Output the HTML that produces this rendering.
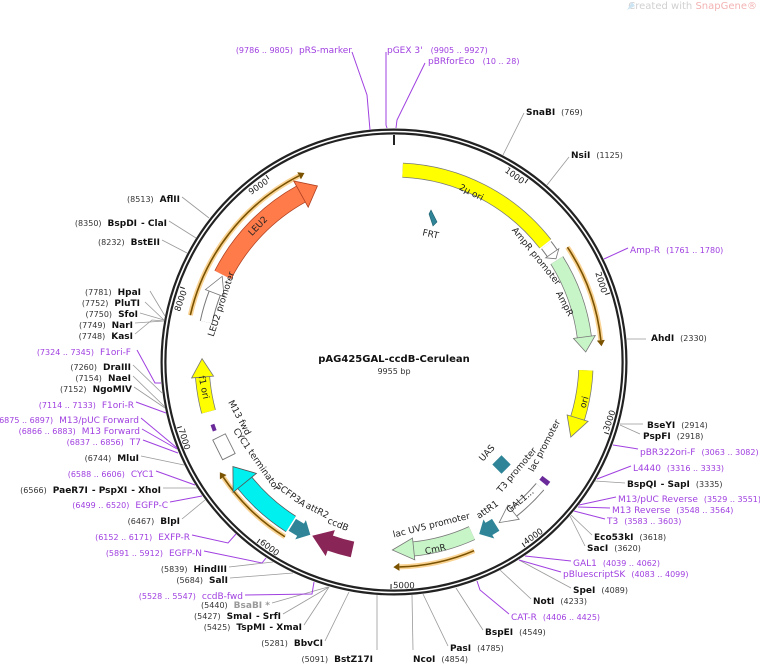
<!DOCTYPE html>
<html><head><meta charset="utf-8"><style>
html,body{margin:0;padding:0;background:#fff;}
svg{display:block;font-family:"DejaVu Sans","Liberation Sans",sans-serif;}
.n{font-size:8px;fill:#333;}
.b{font-size:9px;font-weight:bold;fill:#111;}
.p{font-size:9px;fill:#a040e0;}
.pn{font-size:8px;fill:#a040e0;}
.f{font-size:9px;fill:#222;}
.gl{stroke:#999;stroke-width:0.8;fill:none;}
.pl{stroke:#a040e0;stroke-width:1;fill:none;}
</style></head><body>
<svg width="760" height="666" viewBox="0 0 760 666" xmlns="http://www.w3.org/2000/svg">
<rect width="760" height="666" fill="#fff"/>
<text x="757" y="9" text-anchor="end" font-size="10" fill="#d0d0d0">Created with <tspan fill="#f3b3b3">SnapGene®</tspan></text>
<path d="M627 10 L632 2 L635 6 Z" fill="#cde4f3"/>

<!-- ring -->
<circle cx="394" cy="362" r="230.5" fill="none" stroke="#222" stroke-width="6"/>
<circle cx="394" cy="362" r="230.5" fill="none" stroke="#fff" stroke-width="1.6"/>
<line x1="394" y1="135" x2="394" y2="145" stroke="#222" stroke-width="2"/>

<!-- ticks -->
<g font-size="8.5" fill="#222">
<g transform="translate(528,179) rotate(36.2)"><line x1="0" y1="0" x2="0" y2="5" stroke="#222"/><text x="-2" y="8" text-anchor="end">1000</text></g>
<g transform="translate(610,293) rotate(72.3)"><line x1="0" y1="0" x2="0" y2="5" stroke="#222"/><text x="-2" y="8" text-anchor="end">2000</text></g>
<g transform="translate(609,434) rotate(-71.5)"><line x1="0" y1="0" x2="0" y2="-5" stroke="#222"/><text x="2" y="-1">3000</text></g>
<g transform="translate(525,547) rotate(-35.4)"><line x1="0" y1="0" x2="0" y2="-5" stroke="#222"/><text x="2" y="-1">4000</text></g>
<g transform="translate(391,589) rotate(0.8)"><line x1="0" y1="0" x2="0" y2="-5" stroke="#222"/><text x="2" y="-1">5000</text></g>
<g transform="translate(257,543) rotate(37)"><line x1="0" y1="0" x2="0" y2="-5" stroke="#222"/><text x="2" y="-1">6000</text></g>
<g transform="translate(177,428) rotate(73.2)"><line x1="0" y1="0" x2="0" y2="-5" stroke="#222"/><text x="2" y="-1">7000</text></g>
<g transform="translate(180,287) rotate(-70.7)"><line x1="0" y1="0" x2="0" y2="5" stroke="#222"/><text x="-2" y="8" text-anchor="end">8000</text></g>
<g transform="translate(266,175) rotate(-34.5)"><line x1="0" y1="0" x2="0" y2="5" stroke="#222"/><text x="-2" y="8" text-anchor="end">9000</text></g>
</g>

<!-- orange ORF arcs -->
<g fill="none" transform="rotate(-90 394 362)">
<circle cx="394" cy="362" r="208" pathLength="360" stroke="#f7c878" stroke-width="5" stroke-dasharray="27.5 360" stroke-dashoffset="-56.5" opacity="0.8"/>
<circle cx="394" cy="362" r="208" pathLength="360" stroke="#7a5200" stroke-width="1.6" stroke-dasharray="27.5 360" stroke-dashoffset="-56.5"/>
<circle cx="394" cy="362" r="209" pathLength="360" stroke="#f7c878" stroke-width="5" stroke-dasharray="50 360" stroke-dashoffset="-283" opacity="0.8"/>
<circle cx="394" cy="362" r="209" pathLength="360" stroke="#7a5200" stroke-width="1.6" stroke-dasharray="50 360" stroke-dashoffset="-283"/>
<circle cx="394" cy="362" r="206" pathLength="360" stroke="#f7c878" stroke-width="5" stroke-dasharray="24 360" stroke-dashoffset="-212" opacity="0.8"/>
<circle cx="394" cy="362" r="206" pathLength="360" stroke="#7a5200" stroke-width="1.6" stroke-dasharray="24 360" stroke-dashoffset="-212"/>
<circle cx="394" cy="362" r="205" pathLength="360" stroke="#f7c878" stroke-width="5" stroke-dasharray="21.5 360" stroke-dashoffset="-157" opacity="0.8"/>
<circle cx="394" cy="362" r="205" pathLength="360" stroke="#7a5200" stroke-width="1.6" stroke-dasharray="21.5 360" stroke-dashoffset="-157"/>
</g>
<g fill="#7a5200">
<polygon transform="rotate(84 394 362)" points="394,150 394,158 400,154"/>
<polygon transform="rotate(333 394 362)" points="394,149 394,157 400,153"/>
<polygon transform="rotate(236 394 362)" points="394,152 394,160 400,156"/>
<polygon transform="rotate(178.5 394 362)" points="394,153 394,161 400,157"/>
</g>

<!-- features: bodies -->
<g fill="none" transform="rotate(-90 394 362)">
<circle cx="394" cy="362" r="192" pathLength="360" stroke="#777" stroke-width="15" stroke-dasharray="49.4 360" stroke-dashoffset="-2.6"/>
<circle cx="394" cy="362" r="192" pathLength="360" stroke="#ffff00" stroke-width="13.5" stroke-dasharray="49.4 360" stroke-dashoffset="-2.6"/>
<circle cx="394" cy="362" r="192" pathLength="360" stroke="#777" stroke-width="13" stroke-dasharray="3 360" stroke-dashoffset="-52.5"/>
<circle cx="394" cy="362" r="192" pathLength="360" stroke="#fff" stroke-width="11" stroke-dasharray="3 360" stroke-dashoffset="-52.5"/>
<circle cx="394" cy="362" r="192" pathLength="360" stroke="#777" stroke-width="15" stroke-dasharray="24.5 360" stroke-dashoffset="-58"/>
<circle cx="394" cy="362" r="192" pathLength="360" stroke="#c8f5c8" stroke-width="13.5" stroke-dasharray="24.5 360" stroke-dashoffset="-58"/>
<circle cx="394" cy="362" r="192" pathLength="360" stroke="#777" stroke-width="15" stroke-dasharray="14.5 360" stroke-dashoffset="-92.5"/>
<circle cx="394" cy="362" r="192" pathLength="360" stroke="#ffff00" stroke-width="13.5" stroke-dasharray="14.5 360" stroke-dashoffset="-92.5"/>
<circle cx="394" cy="362" r="192" pathLength="360" stroke="#777" stroke-width="11" stroke-dasharray="11 360" stroke-dashoffset="-130.5"/>
<circle cx="394" cy="362" r="192" pathLength="360" stroke="#fff" stroke-width="9" stroke-dasharray="11 360" stroke-dashoffset="-130.5"/>
<circle cx="394" cy="362" r="192" pathLength="360" stroke="#6a2a9a" stroke-width="10" stroke-dasharray="1.5 360" stroke-dashoffset="-127.5"/>
<circle cx="394" cy="362" r="192" pathLength="360" stroke="#2f8597" stroke-width="14" stroke-dasharray="2.5 360" stroke-dashoffset="-148"/>
<circle cx="394" cy="362" r="188" pathLength="360" stroke="#777" stroke-width="15" stroke-dasharray="18.5 360" stroke-dashoffset="-155.5"/>
<circle cx="394" cy="362" r="188" pathLength="360" stroke="#c8f5c8" stroke-width="13.5" stroke-dasharray="18.5 360" stroke-dashoffset="-155.5"/>
<circle cx="394" cy="362" r="192" pathLength="360" stroke="#8a2558" stroke-width="16" stroke-dasharray="7 360" stroke-dashoffset="-192.5"/>
<circle cx="394" cy="362" r="192" pathLength="360" stroke="#2f8597" stroke-width="14" stroke-dasharray="3 360" stroke-dashoffset="-209"/>
<circle cx="394" cy="362" r="192" pathLength="360" stroke="#555" stroke-width="19" stroke-dasharray="18.5 360" stroke-dashoffset="-212.5"/>
<circle cx="394" cy="362" r="192" pathLength="360" stroke="#00f0f0" stroke-width="17.5" stroke-dasharray="18.5 360" stroke-dashoffset="-212.5"/>
<circle cx="394" cy="362" r="192" pathLength="360" stroke="#6a2a9a" stroke-width="4" stroke-dasharray="2 360" stroke-dashoffset="-249"/>
<circle cx="394" cy="362" r="192" pathLength="360" stroke="#777" stroke-width="15" stroke-dasharray="10.5 360" stroke-dashoffset="-255"/>
<circle cx="394" cy="362" r="192" pathLength="360" stroke="#ffff00" stroke-width="13.5" stroke-dasharray="10.5 360" stroke-dashoffset="-255"/>
<circle cx="394" cy="362" r="192" pathLength="360" stroke="#777" stroke-width="13" stroke-dasharray="9 360" stroke-dashoffset="-282"/>
<circle cx="394" cy="362" r="192" pathLength="360" stroke="#fff" stroke-width="11" stroke-dasharray="9 360" stroke-dashoffset="-282"/>
<circle cx="394" cy="362" r="192" pathLength="360" stroke="#b04020" stroke-width="19" stroke-dasharray="34 360" stroke-dashoffset="-297"/>
<circle cx="394" cy="362" r="192" pathLength="360" stroke="#ff7b4a" stroke-width="17.5" stroke-dasharray="34 360" stroke-dashoffset="-297"/>
</g>
<!-- CYC1 terminator box -->
<rect x="387" y="165" width="22" height="14" fill="#fff" stroke="#777" stroke-width="0.9" transform="rotate(243.5 394 362) translate(-4 0)"/>
<!-- arrowheads -->
<g stroke-width="0.8">
<polygon transform="rotate(55.5 394 362)" points="394,162 394,178 400.7,170.1" fill="#fff" stroke="#777"/>
<polygon transform="rotate(82.5 394 362)" points="394,159 394,181 409.1,170.6" fill="#c8f5c8" stroke="#777"/>
<polygon transform="rotate(107 394 362)" points="394,159 394,181 414.1,171" fill="#ffff00" stroke="#777"/>
<polygon transform="rotate(141.5 394 362)" points="394,161 394,179 411.7,170.8" fill="#fff" stroke="#777"/>
<polygon transform="rotate(150.5 394 362)" points="394,160 394,180 404,170.3" fill="#2f8597" stroke="#2f8597"/>
<polygon transform="rotate(174 394 362)" points="394,163 394,185 415.3,175.2" fill="#c8f5c8" stroke="#777"/>
<polygon transform="rotate(199.5 394 362)" points="394,157 394,183 412.4,170.9" fill="#8a2558" stroke="#8a2558"/>
<polygon transform="rotate(209 394 362)" points="394,160 394,180 384,170.3" fill="#2f8597" stroke="#2f8597"/>
<polygon transform="rotate(231 394 362)" points="394,155 394,185 414.1,171" fill="#00f0f0" stroke="#555"/>
<polygon transform="rotate(265.5 394 362)" points="394,159 394,181 412.4,170.9" fill="#ffff00" stroke="#777"/>
<polygon transform="rotate(291 394 362)" points="394,160 394,180 412.4,170.9" fill="#fff" stroke="#777"/>
<polygon transform="rotate(331 394 362)" points="394,155 394,185 412.4,170.9" fill="#ff7b4a" stroke="#b04020"/>
</g>
<polygon points="431,210 437,222 433,226 429,214" fill="#2f8597" stroke="#1d5f6d" stroke-width="0.6"/>
<rect x="495" y="458" width="13" height="13" fill="#2f8597" transform="rotate(45 501.5 464.5)"/>

<!-- feature labels -->
<g class="f">
<text transform="translate(470,195) rotate(27)" text-anchor="middle">2μ ori</text>
<text transform="translate(534,258) rotate(51)" text-anchor="middle">AmpR promoter</text>
<text transform="translate(562,305) rotate(62)" text-anchor="middle">AmpR</text>
<text transform="translate(587,403) rotate(-74)" text-anchor="middle">ori</text>
<text transform="translate(430,237) rotate(12)" text-anchor="middle">FRT</text>
<text transform="translate(489,455) rotate(-48)" text-anchor="middle">UAS</text>
<text transform="translate(519,472) rotate(-50)" text-anchor="middle">T3 promoter</text>
<text transform="translate(547,447) rotate(-62)" text-anchor="middle">lac promoter</text>
<text transform="translate(522,503) rotate(-40)" text-anchor="middle">GAL1...</text>
<text transform="translate(489,512) rotate(-35)" text-anchor="middle">attR1</text>
<text transform="translate(432,528) rotate(-14)" text-anchor="middle">lac UV5 promoter</text>
<text transform="translate(436,552) rotate(-12)" text-anchor="middle">CmR</text>
<text transform="translate(337,527) rotate(22)" text-anchor="middle">ccdB</text>
<text transform="translate(316,513) rotate(27)" text-anchor="middle">attR2</text>
<text transform="translate(289,497) rotate(36)" text-anchor="middle">SCFP3A</text>
<text transform="translate(254,461) rotate(55)" text-anchor="middle">CYC1 terminator</text>
<text transform="translate(237,419) rotate(62)" text-anchor="middle">M13 fwd</text>
<text transform="translate(201,388) rotate(78)" text-anchor="middle">f1 ori</text>
<text transform="translate(224,305) rotate(-72)" text-anchor="middle">LEU2 promoter</text>
<text transform="translate(260,228) rotate(-46)" text-anchor="middle">LEU2</text>
</g>

<text x="394" y="362" text-anchor="middle" font-size="10" font-weight="bold" fill="#111">pAG425GAL-ccdB-Cerulean</text>
<text x="394" y="374" text-anchor="middle" font-size="8" fill="#333">9955 bp</text>

<!-- connector lines -->
<g class="gl">
<line x1="503" y1="155" x2="524" y2="113"/>
<line x1="547" y1="185" x2="569" y2="157"/>
<line x1="627" y1="339" x2="646" y2="339"/>
<polyline points="620,424 643,424"/><polyline points="620,425 640,434"/>
<polyline points="595,481 625,483"/>
<polyline points="571,515 592,535"/><polyline points="570,516 585,546"/>
<polyline points="519,560 571,588"/>
<polyline points="500,570 531,599"/>
<polyline points="456,588 483,630"/>
<polyline points="423,594 448,646"/>
<polyline points="412,595 413,650"/>
<polyline points="377,595 377,650"/>
<polyline points="349,592 325,641"/>
<polyline points="329,587 304,625"/>
<polyline points="329,587 283,614"/>
<polyline points="328,587 272,603"/>
<polyline points="293,573 230,578"/>
<polyline points="273,562 229,567"/>
<polyline points="205,500 182,519"/>
<polyline points="197,488 163,488"/>
<polyline points="184,465 141,456"/>
<polyline points="165,408 134,387"/><polyline points="165,407 133,376"/><polyline points="162,393 133,365"/>
<polyline points="164,321 152,320 135,334"/><polyline points="164,321 135,323"/><polyline points="164,320 140,313"/><polyline points="164,320 145,302"/><polyline points="165,316 150,291"/>
<polyline points="187,253 162,240"/>
<polyline points="196,238 169,221"/>
<polyline points="209,218 182,197"/>
</g>
<g class="pl">
<polyline points="370,130 367,95 352,52"/>
<polyline points="387,128 386,125 386,52"/>
<polyline points="396,128 397,120 425,63"/>
<polyline points="604,259 628,248"/>
<polyline points="613,445 638,449"/>
<polyline points="597,479 631,466"/>
<polyline points="579,505 616,497"/>
<polyline points="578,507 610,508"/>
<polyline points="574,511 605,519"/>
<polyline points="525,556 571,561"/>
<polyline points="519,560 561,572"/>
<polyline points="477,581 480,590 509,614"/>
<polyline points="314,582 312,594 245,595"/>
<polyline points="266,558 262,563 204,551"/>
<polyline points="236,534 228,543 192,535"/>
<polyline points="202,496 170,502"/>
<polyline points="195,485 156,471"/>
<polyline points="178,453 143,440"/>
<polyline points="177,449 142,429"/>
<polyline points="177,448 141,418"/>
<polyline points="166,413 136,402"/>
<polyline points="161,383 155,383 137,350"/>
</g>

<!-- right labels -->
<g>
<text x="526" y="115"><tspan class="b">SnaBI</tspan><tspan class="n" dx="6">(769)</tspan></text>
<text x="571" y="158"><tspan class="b">NsiI</tspan><tspan class="n" dx="6">(1125)</tspan></text>
<text x="630" y="253"><tspan class="p">Amp-R</tspan><tspan class="pn" dx="6">(1761 .. 1780)</tspan></text>
<text x="651" y="341"><tspan class="b">AhdI</tspan><tspan class="n" dx="6">(2330)</tspan></text>
<text x="647" y="428"><tspan class="b">BseYI</tspan><tspan class="n" dx="6">(2914)</tspan></text>
<text x="643" y="439"><tspan class="b">PspFI</tspan><tspan class="n" dx="6">(2918)</tspan></text>
<text x="640" y="455"><tspan class="p">pBR322ori-F</tspan><tspan class="pn" dx="6">(3063 .. 3082)</tspan></text>
<text x="633" y="471"><tspan class="p">L4440</tspan><tspan class="pn" dx="6">(3316 .. 3333)</tspan></text>
<text x="627" y="487"><tspan class="b">BspQI</tspan><tspan class="b" dx="4">- SapI</tspan><tspan class="n" dx="6">(3335)</tspan></text>
<text x="618" y="502"><tspan class="p">M13/pUC Reverse</tspan><tspan class="pn" dx="6">(3529 .. 3551)</tspan></text>
<text x="612" y="513"><tspan class="p">M13 Reverse</tspan><tspan class="pn" dx="6">(3548 .. 3564)</tspan></text>
<text x="607" y="524"><tspan class="p">T3</tspan><tspan class="pn" dx="6">(3583 .. 3603)</tspan></text>
<text x="594" y="540"><tspan class="b">Eco53kI</tspan><tspan class="n" dx="6">(3618)</tspan></text>
<text x="587" y="551"><tspan class="b">SacI</tspan><tspan class="n" dx="6">(3620)</tspan></text>
<text x="573" y="566"><tspan class="p">GAL1</tspan><tspan class="pn" dx="6">(4039 .. 4062)</tspan></text>
<text x="563" y="577"><tspan class="p">pBluescriptSK</tspan><tspan class="pn" dx="6">(4083 .. 4099)</tspan></text>
<text x="573" y="593"><tspan class="b">SpeI</tspan><tspan class="n" dx="6">(4089)</tspan></text>
<text x="533" y="604"><tspan class="b">NotI</tspan><tspan class="n" dx="6">(4233)</tspan></text>
<text x="511" y="620"><tspan class="p">CAT-R</tspan><tspan class="pn" dx="6">(4406 .. 4425)</tspan></text>
<text x="485" y="635"><tspan class="b">BspEI</tspan><tspan class="n" dx="6">(4549)</tspan></text>
<text x="450" y="651"><tspan class="b">PasI</tspan><tspan class="n" dx="6">(4785)</tspan></text>
<text x="413" y="662"><tspan class="b">NcoI</tspan><tspan class="n" dx="6">(4854)</tspan></text>
</g>
<!-- left labels -->
<g text-anchor="end">
<text x="373" y="662"><tspan class="n">(5091)</tspan><tspan class="b" dx="6">BstZ17I</tspan></text>
<text x="323" y="646"><tspan class="n">(5281)</tspan><tspan class="b" dx="6">BbvCI</tspan></text>
<text x="302" y="630"><tspan class="n">(5425)</tspan><tspan class="b" dx="6">TspMI</tspan><tspan class="b" dx="4">- XmaI</tspan></text>
<text x="281" y="619"><tspan class="n">(5427)</tspan><tspan class="b" dx="6">SmaI</tspan><tspan class="b" dx="4">- SrfI</tspan></text>
<text x="270" y="608"><tspan class="n">(5440)</tspan><tspan font-size="9" font-weight="bold" fill="#999" dx="6">BsaBI *</tspan></text>
<text x="243" y="599"><tspan class="pn">(5528 .. 5547)</tspan><tspan class="p" dx="6">ccdB-fwd</tspan></text>
<text x="228" y="583"><tspan class="n">(5684)</tspan><tspan class="b" dx="6">SalI</tspan></text>
<text x="227" y="572"><tspan class="n">(5839)</tspan><tspan class="b" dx="6">HindIII</tspan></text>
<text x="202" y="556"><tspan class="pn">(5891 .. 5912)</tspan><tspan class="p" dx="6">EGFP-N</tspan></text>
<text x="190" y="540"><tspan class="pn">(6152 .. 6171)</tspan><tspan class="p" dx="6">EXFP-R</tspan></text>
<text x="180" y="524"><tspan class="n">(6467)</tspan><tspan class="b" dx="6">BlpI</tspan></text>
<text x="168" y="508"><tspan class="pn">(6499 .. 6520)</tspan><tspan class="p" dx="6">EGFP-C</tspan></text>
<text x="161" y="493"><tspan class="n">(6566)</tspan><tspan class="b" dx="6">PaeR7I</tspan><tspan class="b" dx="4">- PspXI</tspan><tspan class="b" dx="4">- XhoI</tspan></text>
<text x="154" y="477"><tspan class="pn">(6588 .. 6606)</tspan><tspan class="p" dx="6">CYC1</tspan></text>
<text x="139" y="461"><tspan class="n">(6744)</tspan><tspan class="b" dx="6">MluI</tspan></text>
<text x="141" y="445"><tspan class="pn">(6837 .. 6856)</tspan><tspan class="p" dx="6">T7</tspan></text>
<text x="140" y="434"><tspan class="pn">(6866 .. 6883)</tspan><tspan class="p" dx="6">M13 Forward</tspan></text>
<text x="139" y="423"><tspan class="pn">(6875 .. 6897)</tspan><tspan class="p" dx="6">M13/pUC Forward</tspan></text>
<text x="134" y="408"><tspan class="pn">(7114 .. 7133)</tspan><tspan class="p" dx="6">F1ori-R</tspan></text>
<text x="132" y="392"><tspan class="n">(7152)</tspan><tspan class="b" dx="6">NgoMIV</tspan></text>
<text x="131" y="381"><tspan class="n">(7154)</tspan><tspan class="b" dx="6">NaeI</tspan></text>
<text x="131" y="370"><tspan class="n">(7260)</tspan><tspan class="b" dx="6">DraIII</tspan></text>
<text x="131" y="355"><tspan class="pn">(7324 .. 7345)</tspan><tspan class="p" dx="6">F1ori-F</tspan></text>
<text x="133" y="339"><tspan class="n">(7748)</tspan><tspan class="b" dx="6">KasI</tspan></text>
<text x="133" y="328"><tspan class="n">(7749)</tspan><tspan class="b" dx="6">NarI</tspan></text>
<text x="138" y="317"><tspan class="n">(7750)</tspan><tspan class="b" dx="6">SfoI</tspan></text>
<text x="140" y="306"><tspan class="n">(7752)</tspan><tspan class="b" dx="6">PluTI</tspan></text>
<text x="141" y="295"><tspan class="n">(7781)</tspan><tspan class="b" dx="6">HpaI</tspan></text>
<text x="160" y="245"><tspan class="n">(8232)</tspan><tspan class="b" dx="6">BstEII</tspan></text>
<text x="167" y="226"><tspan class="n">(8350)</tspan><tspan class="b" dx="6">BspDI</tspan><tspan class="b" dx="4">- ClaI</tspan></text>
<text x="180" y="202"><tspan class="n">(8513)</tspan><tspan class="b" dx="6">AflII</tspan></text>
</g>
<!-- top labels -->
<text x="352" y="53" text-anchor="end"><tspan class="pn">(9786 .. 9805)</tspan><tspan class="p" dx="6">pRS-marker</tspan></text>
<text x="387" y="53"><tspan class="p">pGEX 3'</tspan><tspan class="pn" dx="8">(9905 .. 9927)</tspan></text>
<text x="428" y="64"><tspan class="p">pBRforEco</tspan><tspan class="pn" dx="8">(10 .. 28)</tspan></text>
</svg>
</body></html>
